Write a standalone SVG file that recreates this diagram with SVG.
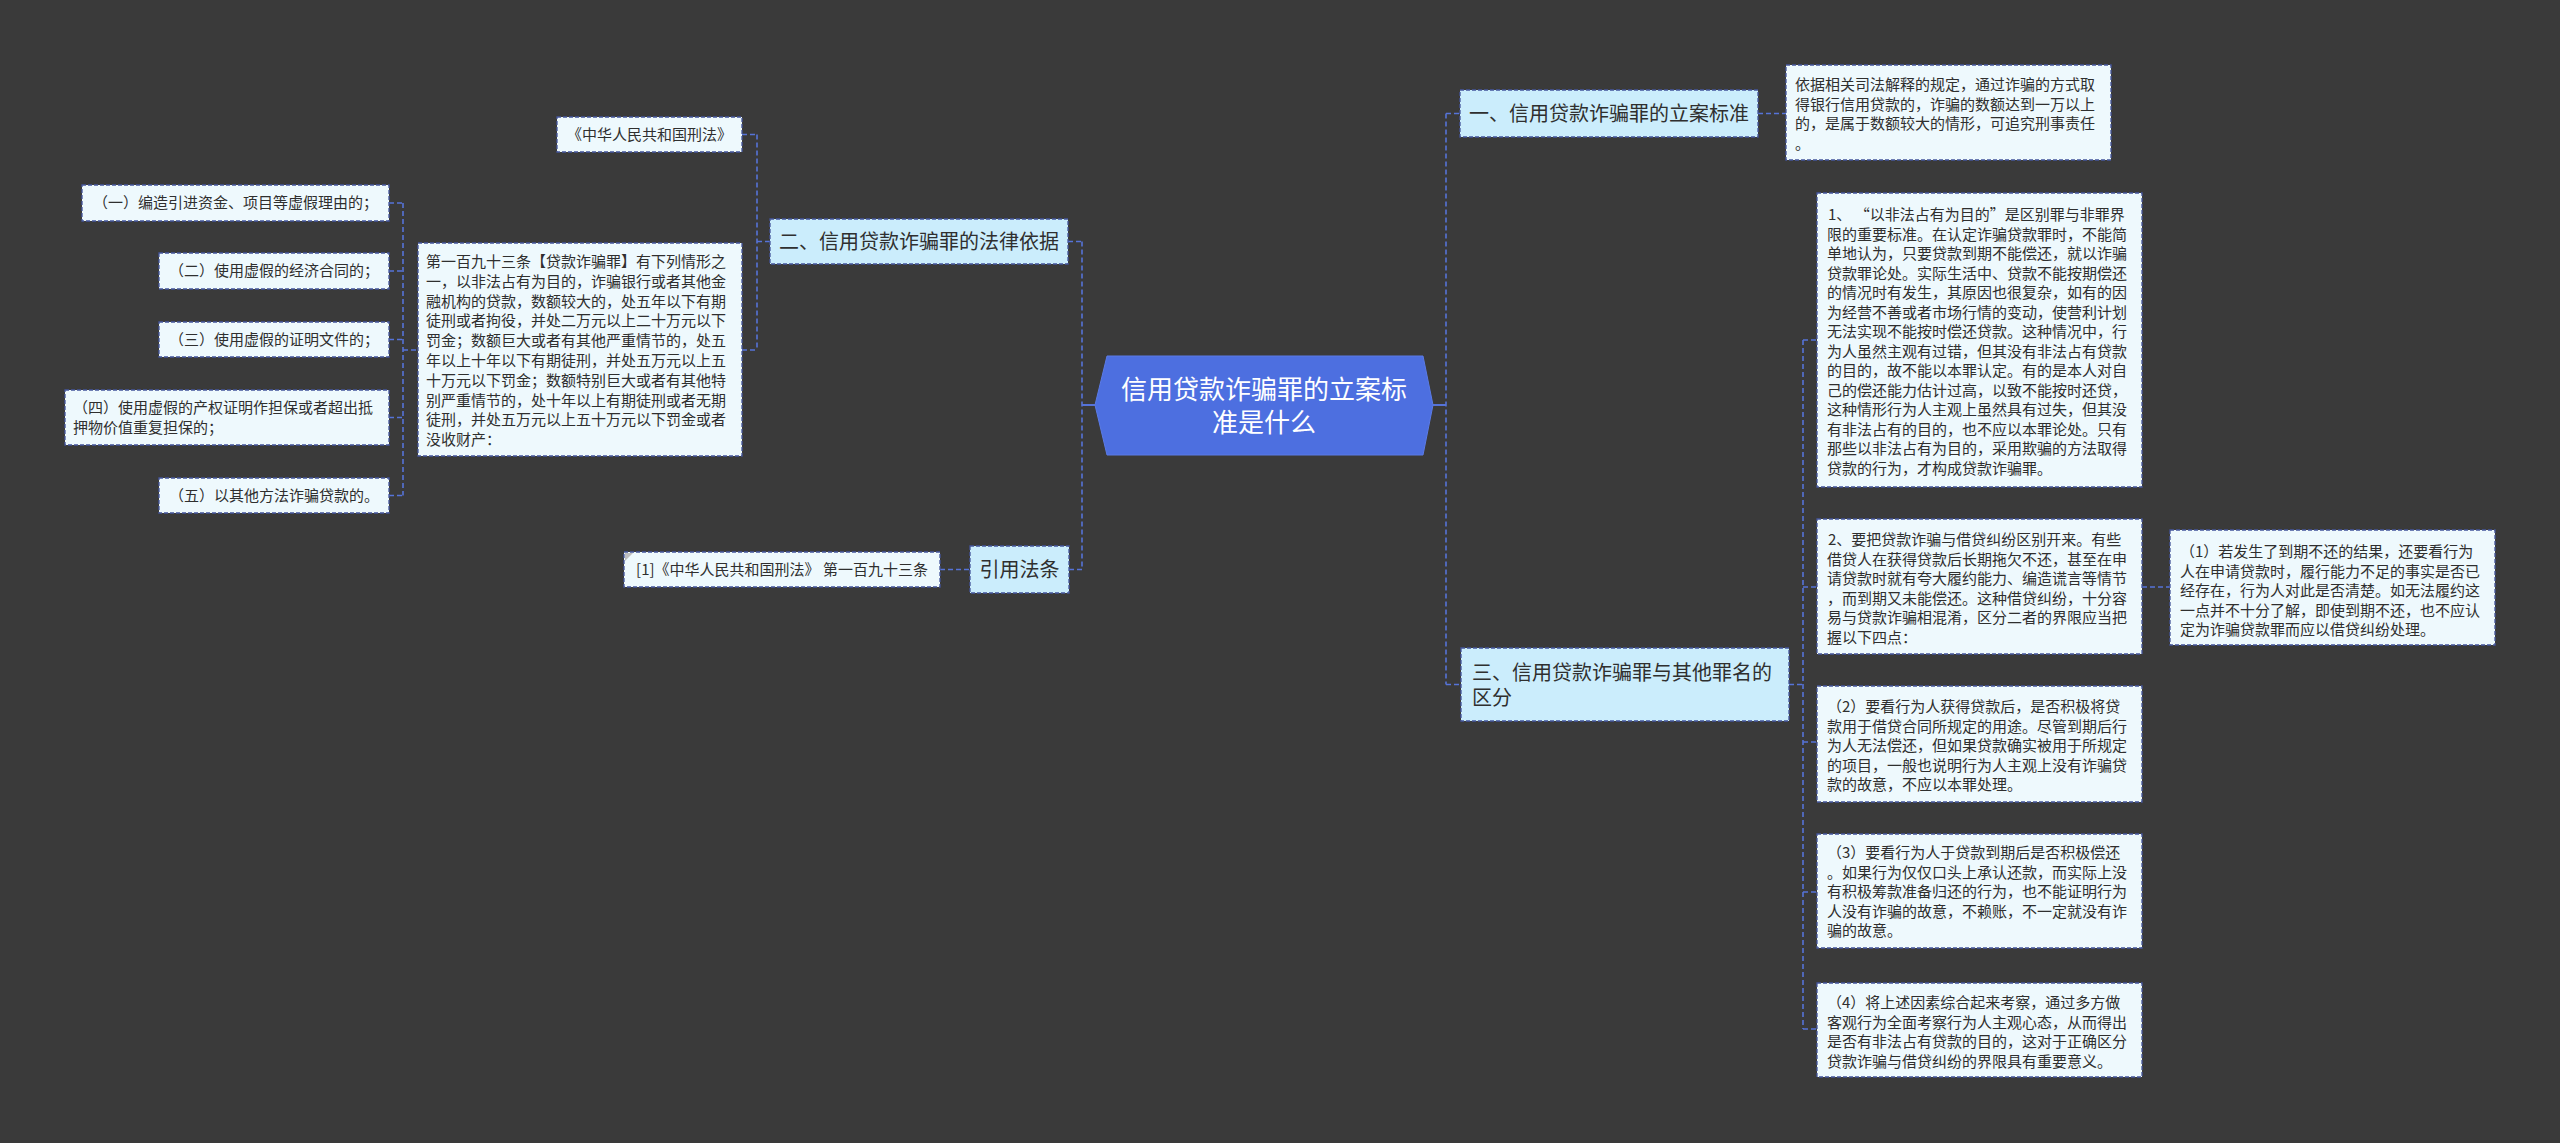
<svg xmlns="http://www.w3.org/2000/svg" width="2560" height="1143" viewBox="0 0 2560 1143">
<style>
text{font-family:"Noto Sans CJK SC","Noto Sans",sans-serif;fill:#2f2f2f}
.leaf{fill:#eef9fd;stroke:#44559c;stroke-width:1.3;stroke-dasharray:4,2}
.branch{fill:#cbedfc;stroke:#44559c;stroke-width:1.3;stroke-dasharray:4,2}
.s15{font-size:15px}
.s20{font-size:20px}
.conn{fill:none;stroke:#5673d8;stroke-width:1.6;stroke-dasharray:5,3}
.solid{fill:none;stroke:#5673d8;stroke-width:2}
</style>
<rect x="0" y="0" width="2560" height="1143" fill="#3a3a3a"/>

<g id="connectors">
<path class="conn" d="M1082,241.5 V569.5 M1068,241.5 H1082 M1069,569.5 H1082"/>
<path class="solid" d="M1082,405 H1095"/>
<path class="conn" d="M757,134.5 V350 M742,134.5 H757 M742,350 H757 M757,241.5 H770"/>
<path class="conn" d="M403,203 V495.5 M389,203 H403 M389,271 H403 M389,339.5 H403 M389,417.5 H403 M389,495.5 H403 M403,350 H418"/>
<path class="conn" d="M940,569.5 H970"/>
<path class="conn" d="M1446,113.5 V684.5 M1446,113.5 H1460 M1446,684.5 H1461"/>
<path class="solid" d="M1433,405 H1446"/>
<path class="conn" d="M1758,113.5 H1786"/>
<path class="conn" d="M1803,340 V1029 M1789,684.5 H1803 M1803,340 H1817 M1803,587 H1817 M1803,742 H1817 M1803,892 H1817 M1803,1029 H1817"/>
<path class="conn" d="M2142,587 H2170"/>
</g>

<g id="center">
<polygon points="1095,405 1107,356 1423,356 1433,405 1423,455 1107,455" fill="#4d6fe0" stroke="#5b7be6" stroke-width="1"/>
<text x="1264" y="399" text-anchor="middle" style="font-size:26px;fill:#ffffff">信用贷款诈骗罪的立案标</text>
<text x="1264" y="432" text-anchor="middle" style="font-size:26px;fill:#ffffff">准是什么</text>
</g>

<g id="n-law-basis">
<rect class="branch" x="770" y="219" width="298" height="45"/>
<text class="s20" x="919" y="248.5" text-anchor="middle">二、信用贷款诈骗罪的法律依据</text>
</g>

<g id="n-criminal-law">
<rect class="leaf" x="557" y="117" width="185" height="35"/>
<text class="s15" x="649.5" y="139.5" text-anchor="middle">《中华人民共和国刑法》</text>
</g>

<g id="n-article">
<rect class="leaf" x="418" y="243" width="324" height="213"/>
<text class="s15">
<tspan x="426" y="267">第一百九十三条【贷款诈骗罪】有下列情形之</tspan>
<tspan x="426" y="286.8">一，以非法占有为目的，诈骗银行或者其他金</tspan>
<tspan x="426" y="306.6">融机构的贷款，数额较大的，处五年以下有期</tspan>
<tspan x="426" y="326.4">徒刑或者拘役，并处二万元以上二十万元以下</tspan>
<tspan x="426" y="346.2">罚金；数额巨大或者有其他严重情节的，处五</tspan>
<tspan x="426" y="366">年以上十年以下有期徒刑，并处五万元以上五</tspan>
<tspan x="426" y="385.8">十万元以下罚金；数额特别巨大或者有其他特</tspan>
<tspan x="426" y="405.6">别严重情节的，处十年以上有期徒刑或者无期</tspan>
<tspan x="426" y="425.4">徒刑，并处五万元以上五十万元以下罚金或者</tspan>
<tspan x="426" y="445.2">没收财产：</tspan>
</text>
</g>

<g id="n-item1">
<rect class="leaf" x="82" y="185" width="307" height="36"/>
<text class="s15" x="235.5" y="208" text-anchor="middle">（一）编造引进资金、项目等虚假理由的；</text>
</g>
<g id="n-item2">
<rect class="leaf" x="159" y="253" width="230" height="36"/>
<text class="s15" x="274" y="276" text-anchor="middle">（二）使用虚假的经济合同的；</text>
</g>
<g id="n-item3">
<rect class="leaf" x="159" y="322" width="230" height="35"/>
<text class="s15" x="274" y="344.5" text-anchor="middle">（三）使用虚假的证明文件的；</text>
</g>
<g id="n-item4">
<rect class="leaf" x="65" y="390" width="324" height="55"/>
<text class="s15">
<tspan x="73" y="413">（四）使用虚假的产权证明作担保或者超出抵</tspan>
<tspan x="73" y="433">押物价值重复担保的；</tspan>
</text>
</g>
<g id="n-item5">
<rect class="leaf" x="159" y="478" width="230" height="35"/>
<text class="s15" x="274" y="500.5" text-anchor="middle">（五）以其他方法诈骗贷款的。</text>
</g>

<g id="n-cite">
<rect class="branch" x="970" y="546" width="99" height="47"/>
<text class="s20" x="1019.5" y="576.5" text-anchor="middle">引用法条</text>
</g>
<g id="n-cite-text">
<rect class="leaf" x="624" y="552" width="316" height="35"/>
<polygon points="625,553 633,553 625,561" fill="#bfbfbf"/>
<text class="s15" x="782" y="574.5" text-anchor="middle">[1]《中华人民共和国刑法》 第一百九十三条</text>
</g>

<g id="n-standard">
<rect class="branch" x="1460" y="90" width="298" height="47"/>
<text class="s20" x="1609" y="120.5" text-anchor="middle">一、信用贷款诈骗罪的立案标准</text>
</g>
<g id="n-standard-text">
<rect class="leaf" x="1786" y="65" width="325" height="95"/>
<text class="s15">
<tspan x="1795" y="90">依据相关司法解释的规定，通过诈骗的方式取</tspan>
<tspan x="1795" y="109.5">得银行信用贷款的，诈骗的数额达到一万以上</tspan>
<tspan x="1795" y="129">的，是属于数额较大的情形，可追究刑事责任</tspan>
<tspan x="1795" y="148.5">。</tspan>
</text>
</g>

<g id="n-distinction">
<rect class="branch" x="1461" y="648" width="328" height="73"/>
<text class="s20">
<tspan x="1472" y="680">三、信用贷款诈骗罪与其他罪名的</tspan>
<tspan x="1472" y="705">区分</tspan>
</text>
</g>

<g id="n-d1">
<rect class="leaf" x="1817" y="193" width="325" height="294"/>
<text class="s15">
<tspan x="1828" y="220">1、 “以非法占有为目的”是区别罪与非罪界</tspan>
<tspan x="1827" y="239.5">限的重要标准。在认定诈骗贷款罪时，不能简</tspan>
<tspan x="1827" y="259">单地认为，只要贷款到期不能偿还，就以诈骗</tspan>
<tspan x="1827" y="278.5">贷款罪论处。实际生活中、贷款不能按期偿还</tspan>
<tspan x="1827" y="298">的情况时有发生，其原因也很复杂，如有的因</tspan>
<tspan x="1827" y="317.5">为经营不善或者市场行情的变动，使营利计划</tspan>
<tspan x="1827" y="337">无法实现不能按时偿还贷款。这种情况中，行</tspan>
<tspan x="1827" y="356.5">为人虽然主观有过错，但其没有非法占有贷款</tspan>
<tspan x="1827" y="376">的目的，故不能以本罪认定。有的是本人对自</tspan>
<tspan x="1827" y="395.5">己的偿还能力估计过高，以致不能按时还贷，</tspan>
<tspan x="1827" y="415">这种情形行为人主观上虽然具有过失，但其没</tspan>
<tspan x="1827" y="434.5">有非法占有的目的，也不应以本罪论处。只有</tspan>
<tspan x="1827" y="454">那些以非法占有为目的，采用欺骗的方法取得</tspan>
<tspan x="1827" y="473.5">贷款的行为，才构成贷款诈骗罪。</tspan>
</text>
</g>

<g id="n-d2">
<rect class="leaf" x="1817" y="519" width="325" height="135"/>
<text class="s15">
<tspan x="1828" y="545">2、要把贷款诈骗与借贷纠纷区别开来。有些</tspan>
<tspan x="1827" y="564.5">借贷人在获得贷款后长期拖欠不还，甚至在申</tspan>
<tspan x="1827" y="584">请贷款时就有夸大履约能力、编造谎言等情节</tspan>
<tspan x="1827" y="603.5">，而到期又未能偿还。这种借贷纠纷，十分容</tspan>
<tspan x="1827" y="623">易与贷款诈骗相混淆，区分二者的界限应当把</tspan>
<tspan x="1827" y="642.5">握以下四点：</tspan>
</text>
</g>

<g id="n-d2-1">
<rect class="leaf" x="2170" y="530" width="325" height="115"/>
<text class="s15">
<tspan x="2180" y="557">（1）若发生了到期不还的结果，还要看行为</tspan>
<tspan x="2180" y="576.5">人在申请贷款时，履行能力不足的事实是否已</tspan>
<tspan x="2180" y="596">经存在，行为人对此是否清楚。如无法履约这</tspan>
<tspan x="2180" y="615.5">一点并不十分了解，即使到期不还，也不应认</tspan>
<tspan x="2180" y="635">定为诈骗贷款罪而应以借贷纠纷处理。</tspan>
</text>
</g>

<g id="n-d3">
<rect class="leaf" x="1817" y="686" width="325" height="116"/>
<text class="s15">
<tspan x="1827" y="712">（2）要看行为人获得贷款后，是否积极将贷</tspan>
<tspan x="1827" y="731.5">款用于借贷合同所规定的用途。尽管到期后行</tspan>
<tspan x="1827" y="751">为人无法偿还，但如果贷款确实被用于所规定</tspan>
<tspan x="1827" y="770.5">的项目，一般也说明行为人主观上没有诈骗贷</tspan>
<tspan x="1827" y="790">款的故意，不应以本罪处理。</tspan>
</text>
</g>

<g id="n-d4">
<rect class="leaf" x="1817" y="834" width="325" height="114"/>
<text class="s15">
<tspan x="1827" y="858">（3）要看行为人于贷款到期后是否积极偿还</tspan>
<tspan x="1827" y="877.5">。如果行为仅仅口头上承认还款，而实际上没</tspan>
<tspan x="1827" y="897">有积极筹款准备归还的行为，也不能证明行为</tspan>
<tspan x="1827" y="916.5">人没有诈骗的故意，不赖账，不一定就没有诈</tspan>
<tspan x="1827" y="936">骗的故意。</tspan>
</text>
</g>

<g id="n-d5">
<rect class="leaf" x="1817" y="983" width="325" height="94"/>
<text class="s15">
<tspan x="1827" y="1008">（4）将上述因素综合起来考察，通过多方做</tspan>
<tspan x="1827" y="1027.5">客观行为全面考察行为人主观心态，从而得出</tspan>
<tspan x="1827" y="1047">是否有非法占有贷款的目的，这对于正确区分</tspan>
<tspan x="1827" y="1066.5">贷款诈骗与借贷纠纷的界限具有重要意义。</tspan>
</text>
</g>
</svg>
